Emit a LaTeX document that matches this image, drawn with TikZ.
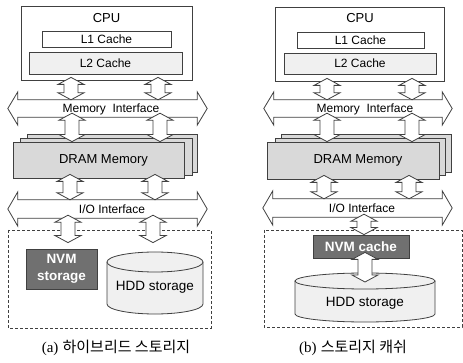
\documentclass[tikz,border=0pt]{standalone}
\usepackage{fontspec}
\setmainfont{Liberation Sans}
\newfontfamily\krfont{Noto Sans CJK KR}
\newfontfamily\capfont{Liberation Serif}
\usetikzlibrary{calc}
\definecolor{linecol}{rgb}{0.25,0.25,0.25}
\definecolor{lightfill}{rgb}{0.94,0.94,0.94}
\definecolor{dramfill}{rgb}{0.85,0.85,0.85}
\definecolor{nvmfill}{rgb}{0.44,0.44,0.44}
% vertical block arrow: x, upper point, lower point
\newcommand{\vlink}[3]{%
  \draw[blockarrow] let \p1=#2, \p2=#3 in
    (#1pt,\y1) -- (#1pt+13pt,\y1-7pt) -- (#1pt+7pt,\y1-7pt) -- (#1pt+7pt,\y2+7pt)
    -- (#1pt+13pt,\y2+7pt) -- (#1pt,\y2) -- (#1pt-13pt,\y2+7pt) -- (#1pt-7pt,\y2+7pt)
    -- (#1pt-7pt,\y1-7pt) -- (#1pt-13pt,\y1-7pt) -- cycle;}
% horizontal bus arrow round a shaft node
\newcommand{\hbus}[1]{%
  \draw[busarrow] let \p1=(#1.south west), \p2=(#1.north east), \p3=(#1.west), \p4=(#1.east) in
    (\x1,\y2) -- (\x2,\y2) -- (\x2,\y2+8pt) -- (\x4+10pt,\y4) -- (\x2,\y1-8pt) -- (\x2,\y1)
    -- (\x1,\y1) -- (\x1,\y1-8pt) -- (\x3-10pt,\y3) -- (\x1,\y2+8pt) -- cycle;}
\begin{document}
\begin{tikzpicture}[x=1pt,y=1pt,
  box/.style={draw=linecol, line width=0.8pt, inner sep=0pt},
  sized/.style 2 args={minimum width=#1, minimum height=#2},
  shaft/.style={inner sep=0pt},
  blockarrow/.style={draw=linecol, fill=white, line width=0.8pt},
  busarrow/.style={draw=linecol, fill=white, line width=0.8pt},
  txt/.style={inner sep=0pt, font=\fontsize{12}{14}\selectfont},
  bigtxt/.style={inner sep=0pt, font=\fontsize{13}{15}\selectfont},
  nvmtxt/.style={inner sep=0pt, text=white, align=center, font=\fontsize{13.5}{17}\selectfont\bfseries},
  captxt/.style={inner sep=0pt, font=\fontsize{15}{18}\selectfont},
  storebox/.style={draw=linecol, line width=0.8pt, dash pattern=on 3pt off 2pt}]
\useasboundingbox (0,0) rectangle (463,-363);
%%
%% (a) hybrid storage
  % Node: CPU
  \node[box, sized={171}{74}] (cpuA) at (106.5,-43) {};
  \node[bigtxt] (cpuAtxt) at (106.5,-18) {CPU};
  \node[box, fill=white, sized={129}{16}, txt] (l1A) at (106.5,-39) {L1 Cache};
  \node[box, fill=lightfill, sized={153}{22}, txt] (l2A) at (105.5,-63) {L2 Cache};
  % Node: Memory Interface
  \node[shaft, sized={179}{17}] (memA) at (107.5,-108.5) {};
  \hbus{memA}
  \node[txt] (memAtxt) at (111,-109) {Memory\ \ Interface};
  % Node: DRAM Memory
  \node[box, fill=dramfill, sized={170}{38}] (dram3A) at (112,-153) {};
  \node[box, fill=dramfill, sized={172}{37}] (dram2A) at (106,-156.5) {};
  \node[box, fill=dramfill, sized={171}{36}] (dramA) at (98.5,-160) {};
  \node[bigtxt] (dramAtxt) at (103.5,-160) {DRAM Memory};
  % Node: I/O Interface
  \node[shaft, sized={179}{18}] (ioA) at (107.5,-209) {};
  \hbus{ioA}
  \node[txt] (ioAtxt) at (112,-209) {I/O Interface};
  % Node: storage
  \draw[storebox] (8,-230) rectangle (211,-328);
  \node[box, fill=nvmfill, sized={71}{40}, nvmtxt] (nvmA) at (61.5,-269) {NVM\\storage};
  \fill[lightfill] (107,-262) -- (107,-304) arc[start angle=180, end angle=360, x radius=48, y radius=10] -- (203,-262) -- cycle;
  \draw[linecol, line width=0.8pt] (107,-262) -- (107,-304) arc[start angle=180, end angle=360, x radius=48, y radius=10] -- (203,-262);
  \filldraw[fill=lightfill, draw=linecol, line width=0.8pt] (155,-262) ellipse [x radius=48, y radius=10];
  \node[bigtxt, font=\fontsize{13.5}{15}\selectfont] (hddA) at (155,-287) {HDD storage};
  % Edges
  \vlink{71}{($(cpuA.south)+(0,3)$)}{(memA.north)}
  \vlink{158}{($(cpuA.south)+(0,3)$)}{(memA.north)}
  \vlink{72}{($(memA.south)+(0,4)$)}{(dramA.north)}
  \vlink{160}{($(memA.south)+(0,4)$)}{(dramA.north)}
  \vlink{70}{($(dramA.south)+(0,4)$)}{(ioA.north)}
  \vlink{155}{($(dramA.south)+(0,4)$)}{(ioA.north)}
  \vlink{68}{($(ioA.south)+(0,3)$)}{($(nvmA.north)+(0,6)$)}
  \vlink{153}{($(ioA.south)+(0,3)$)}{($(nvmA.north)+(0,6)$)}
  \node[captxt] (capA) at (116,-348) {{\capfont (a)} {\krfont 하이브리드 스토리지}};
%%
%% (b) storage cache
  % Node: CPU
  \node[box, sized={169}{74}] (cpuB) at (359.5,-44) {};
  \node[bigtxt] (cpuBtxt) at (360,-18) {CPU};
  \node[box, fill=white, sized={127}{16}, txt] (l1B) at (360.5,-40) {L1 Cache};
  \node[box, fill=lightfill, sized={152}{21}, txt] (l2B) at (360,-63.5) {L2 Cache};
  % Node: Memory Interface
  \node[shaft, sized={168}{17}] (memB) at (358,-108.5) {};
  \hbus{memB}
  \node[txt] (memBtxt) at (365,-109) {Memory\ \ Interface};
  % Node: DRAM Memory
  \node[box, fill=dramfill, sized={170}{38}] (dram3B) at (366,-153) {};
  \node[box, fill=dramfill, sized={170}{37}] (dram2B) at (360,-156.5) {};
  \node[box, fill=dramfill, sized={172}{37}] (dramB) at (353,-160.5) {};
  \node[bigtxt] (dramBtxt) at (358,-160.5) {DRAM Memory};
  % Node: I/O Interface
  \node[shaft, sized={169}{18}] (ioB) at (357.5,-208) {};
  \hbus{ioB}
  \node[txt] (ioBtxt) at (362,-208) {I/O Interface};
  % Node: storage
  \draw[storebox] (264,-230) rectangle (462,-327);
  \node[box, fill=nvmfill, sized={96}{23}, nvmtxt] (nvmB) at (361,-246.5) {NVM cache};
  \fill[lightfill] (295,-281) -- (295,-314) arc[start angle=180, end angle=360, x radius=70, y radius=8] -- (435,-281) -- cycle;
  \draw[linecol, line width=0.8pt] (295,-281) -- (295,-314) arc[start angle=180, end angle=360, x radius=70, y radius=8] -- (435,-281);
  \filldraw[fill=lightfill, draw=linecol, line width=0.8pt] (365,-281) ellipse [x radius=70, y radius=8];
  \coordinate (hddtopB) at (365,-282);
  \node[bigtxt, font=\fontsize{13.5}{15}\selectfont] (hddB) at (365,-303) {HDD storage};
  % Edges
  \vlink{327}{($(cpuB.south)+(0,3)$)}{(memB.north)}
  \vlink{412}{($(cpuB.south)+(0,3)$)}{(memB.north)}
  \vlink{327}{($(memB.south)+(0,4)$)}{(dramB.north)}
  \vlink{412}{($(memB.south)+(0,4)$)}{(dramB.north)}
  \vlink{324}{($(dramB.south)+(0,4)$)}{(ioB.north)}
  \vlink{409}{($(dramB.south)+(0,4)$)}{(ioB.north)}
  \vlink{364}{($(ioB.south)+(0,3)$)}{(nvmB.north)}
  \vlink{365}{($(nvmB.south)+(0,6)$)}{(hddtopB)}
  \node[captxt] (capB) at (353,-348) {{\capfont (b)} {\krfont 스토리지 캐쉬}};
%
\end{tikzpicture}
\end{document}
